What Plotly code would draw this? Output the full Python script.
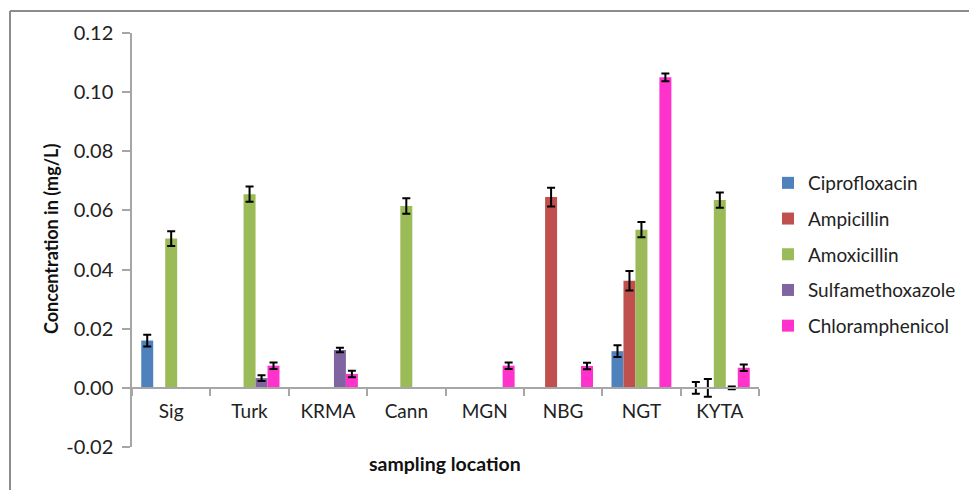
import plotly.graph_objects as go

locations = ["Sig", "Turk", "KRMA", "Cann", "MGN", "NBG", "NGT", "KYTA"]
series_names = ["Ciprofloxacin", "Ampicillin", "Amoxicillin", "Sulfamethoxazole", "Chloramphenicol"]

ciprofloxacin = [0.016, None, None, None, None, None, 0.0124, 0.0]
ciprofloxacin_err = [0.002, 0, 0, 0, 0, 0, 0.002, 0.002]
ampicillin = [None, None, None, None, None, 0.0645, 0.0362, 0.0]
ampicillin_err = [0, 0, 0, 0, 0, 0.0032, 0.0033, 0.003]
amoxicillin = [0.0505, 0.0655, None, 0.0615, None, None, 0.0535, 0.0635]
amoxicillin_err = [0.0025, 0.0026, 0, 0.0026, 0, 0, 0.0026, 0.0026]
sulfamethoxazole = [None, 0.0033, 0.0128, None, None, None, None, 0.0]
sulfamethoxazole_err = [0, 0.001, 0.0008, 0, 0, 0, 0, 0.0005]
chloramphenicol = [None, 0.0075, 0.0047, None, 0.0075, 0.0074, 0.105, 0.0068]
chloramphenicol_err = [0, 0.0011, 0.0011, 0, 0.0011, 0.0011, 0.0013, 0.0011]

y_tick_values = [-0.02, 0.0, 0.02, 0.04, 0.06, 0.08, 0.10, 0.12]
y_tick_labels = ["-0.02", "0.00", "0.02", "0.04", "0.06", "0.08", "0.10", "0.12"]

values = [ciprofloxacin, ampicillin, amoxicillin, sulfamethoxazole, chloramphenicol]
errors = [ciprofloxacin_err, ampicillin_err, amoxicillin_err, sulfamethoxazole_err, chloramphenicol_err]
colors = ["#4F81BD", "#C0504D", "#9BBB59", "#8064A2", "#FF33CC"]

FONT = "Lato, 'Open Sans', sans-serif"

fig = go.Figure()
for name, v, e, c in zip(series_names, values, errors, colors):
    fig.add_trace(go.Bar(
        x=locations, y=v, name=name, legendgroup=name,
        marker=dict(color=c, line=dict(width=0)),
        error_y=dict(type="data", array=e, visible=True, color="black", thickness=2, width=4),
    ))

y_min, y_max = -0.02, 0.12
L, R, T, B = 132, 210, 33, 43
W, H = 969, 490
pw, ph = W - L - R, H - T - B

def px_x(p):
    return (p - L) / pw

def px_y(p):
    return (H - B - p) / ph

fig.update_layout(
    width=W, height=H,
    margin=dict(l=L, r=R, t=T, b=B, autoexpand=False),
    paper_bgcolor="white", plot_bgcolor="white",
    barmode="group", bargap=0.236, bargroupgap=0,
    font=dict(family=FONT, size=19, color="#222"),
    showlegend=True,
    legend=dict(x=px_x(768), y=px_y(164), xanchor="left", yanchor="top",
                font=dict(size=19, color="#222"), tracegroupgap=8,
                traceorder="grouped", bgcolor="rgba(0,0,0,0)"),
    xaxis=dict(
        type="category", anchor="free", position=(0 - y_min) / (y_max - y_min),
        showline=True, linecolor="#a6a6a6", linewidth=1.5,
        ticks="outside", tickson="boundaries", ticklen=7, tickcolor="#a6a6a6", tickwidth=1.5,
        ticklabelstandoff=7,
        tickfont=dict(size=19, color="#222"), showgrid=False, zeroline=False,
    ),
    yaxis=dict(
        range=[y_min, y_max], tickmode="array", tickvals=y_tick_values, ticktext=y_tick_labels,
        showline=True, linecolor="#a6a6a6", linewidth=1.5,
        ticks="outside", ticklen=8, tickcolor="#a6a6a6", tickwidth=1.5,
        ticklabelstandoff=5,
        tickfont=dict(size=20, color="#222"), showgrid=False, zeroline=False,
    ),
    annotations=[
        dict(text="<b>Concentration in (mg/L)</b>", xref="paper", yref="paper",
             x=px_x(51), y=px_y(239), xanchor="center", yanchor="middle",
             textangle=-90, showarrow=False,
             font=dict(size=18, color="#111")),
        dict(text="<b>sampling location</b>", xref="paper", yref="paper",
             x=px_x(445), y=px_y(463), xanchor="center", yanchor="middle", showarrow=False,
             font=dict(size=19.5, color="#111")),
    ],
    shapes=[
        dict(type="line", xref="paper", yref="paper", x0=px_x(10), x1=px_x(969),
             y0=px_y(11), y1=px_y(11), line=dict(color="#8c8c8c", width=2)),
        dict(type="line", xref="paper", yref="paper", x0=px_x(10), x1=px_x(10),
             y0=px_y(11), y1=px_y(490), line=dict(color="#8c8c8c", width=2)),
    ],
)

fig.write_html("out.html", config={"displayModeBar": False},
               post_script="document.body.style.margin='0';")
